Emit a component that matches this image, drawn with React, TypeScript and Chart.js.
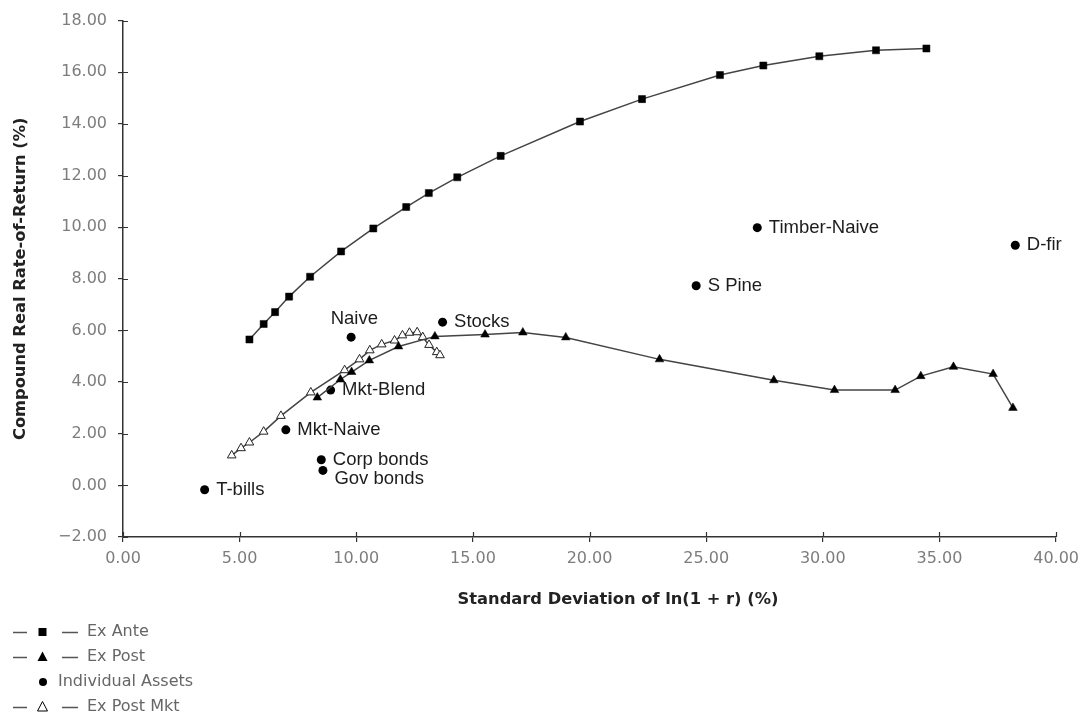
import React, { useEffect, useRef } from 'react';
import { Chart, registerables } from 'chart.js';

Chart.register(...registerables);

// ---- Data ----
const exAnteX = [5.42, 6.03, 6.52, 7.12, 8.02, 9.35, 10.73, 12.14, 13.11, 14.33, 16.19, 19.59, 22.25, 25.59, 27.45, 29.85, 32.28, 34.44];
const exAnteY = [5.65, 6.25, 6.71, 7.31, 8.08, 9.06, 9.95, 10.78, 11.32, 11.93, 12.76, 14.09, 14.96, 15.89, 16.26, 16.62, 16.85, 16.92];

const exPostX = [8.33, 9.32, 9.8, 10.56, 11.81, 13.37, 15.52, 17.14, 18.98, 23.0, 27.9, 30.5, 33.1, 34.2, 35.6, 37.3, 38.15];
const exPostY = [3.4, 4.1, 4.39, 4.84, 5.38, 5.77, 5.84, 5.92, 5.73, 4.88, 4.07, 3.69, 3.69, 4.23, 4.59, 4.31, 3.0];

const exPostMktX = [4.66, 5.06, 5.42, 6.03, 6.77, 8.05, 9.5, 10.14, 10.58, 11.09, 11.64, 11.98, 12.28, 12.61, 12.85, 13.12, 13.45, 13.59];
const exPostMktY = [1.16, 1.44, 1.66, 2.08, 2.69, 3.6, 4.46, 4.88, 5.23, 5.46, 5.61, 5.81, 5.91, 5.93, 5.74, 5.44, 5.16, 5.04];

const assetNames = ['T-bills', 'Mkt-Naive', 'Corp bonds', 'Gov bonds', 'Mkt-Blend', 'Naive', 'Stocks', 'S Pine', 'Timber-Naive', 'D-fir'];
const assetX = [3.5, 6.98, 8.5, 8.57, 8.9, 9.78, 13.7, 24.57, 27.19, 38.25];
const assetY = [-0.17, 2.15, 0.99, 0.58, 3.69, 5.74, 6.32, 7.73, 9.98, 9.3];

const xTicks = [0, 5, 10, 15, 20, 25, 30, 35, 40];
const yTicks = [-2, 0, 2, 4, 6, 8, 10, 12, 14, 16, 18];

const xTitle = 'Standard Deviation of ln(1 + r) (%)';
const yTitle = 'Compound Real Rate-of-Return (%)';
const legendLabels = ['Ex Ante', 'Ex Post', 'Individual Assets', 'Ex Post Mkt'];

const toPoints = (xs: number[], ys: number[]) => xs.map((x, i) => ({ x, y: ys[i] }));

const LINE = '#444';
const TICK_FONT = '16px "DejaVu Sans", sans-serif';
const TICK_COLOR = '#7d7d7d';

const decorPlugin = {
  id: 'decor',
  afterDraw(chart: any) {
    const { ctx, chartArea, scales } = chart;
    const x = scales.x;
    const y = scales.y;
    ctx.save();
    // inner tick marks
    ctx.strokeStyle = '#333';
    ctx.lineWidth = 1.2;
    ctx.beginPath();
    xTicks.forEach((v) => {
      const px = Math.round(x.getPixelForValue(v)) + 0.5;
      ctx.moveTo(px, chartArea.bottom);
      ctx.lineTo(px, chartArea.bottom - 5);
    });
    yTicks.forEach((v) => {
      const py = Math.round(y.getPixelForValue(v)) + 0.5;
      ctx.moveTo(chartArea.left, py);
      ctx.lineTo(chartArea.left + 5, py);
    });
    ctx.stroke();

    // asset labels
    ctx.font = '18.5px "Liberation Sans", Arial, sans-serif';
    ctx.fillStyle = '#1c1c1c';
    ctx.textBaseline = 'middle';
    ctx.textAlign = 'left';
    assetNames.forEach((name, i) => {
      const px = x.getPixelForValue(assetX[i]);
      const py = y.getPixelForValue(assetY[i]);
      let dx = 11.5;
      let dy = 0;
      if (name === 'Naive') { dx = -20.5; dy = -18.5; }
      if (name === 'Gov bonds') { dy = 9; }
      ctx.fillText(name, px + dx, py + dy);
    });

    // axis titles
    ctx.fillStyle = '#222';
    ctx.font = 'bold 16.3px "DejaVu Sans", sans-serif';
    ctx.textAlign = 'center';
    ctx.fillText(xTitle, 618, 600);
    ctx.save();
    ctx.translate(21, (chartArea.top + chartArea.bottom) / 2);
    ctx.rotate(-Math.PI / 2);
    ctx.fillText(yTitle, 0, 0);
    ctx.restore();

    // legend
    const rows = [632, 657, 682, 707];
    ctx.font = TICK_FONT;
    ctx.textAlign = 'left';
    rows.forEach((ry, i) => {
      ctx.strokeStyle = '#555';
      ctx.lineWidth = 1.3;
      if (i !== 2) {
        ctx.beginPath();
        ctx.moveTo(13, ry + 0.5); ctx.lineTo(27, ry + 0.5);
        ctx.moveTo(62, ry + 0.5); ctx.lineTo(78, ry + 0.5);
        ctx.stroke();
      }
      ctx.fillStyle = '#000';
      ctx.strokeStyle = '#000';
      if (i === 0) {
        ctx.fillRect(38.5, ry - 4, 8, 8);
      } else if (i === 1) {
        ctx.beginPath();
        ctx.moveTo(42.5, ry - 5.5); ctx.lineTo(47.5, ry + 4); ctx.lineTo(37.5, ry + 4); ctx.closePath();
        ctx.fill();
      } else if (i === 2) {
        ctx.beginPath();
        ctx.arc(43, ry, 4, 0, Math.PI * 2);
        ctx.fill();
      } else {
        ctx.lineWidth = 1;
        ctx.beginPath();
        ctx.moveTo(42.5, ry - 5.5); ctx.lineTo(47.5, ry + 4); ctx.lineTo(37.5, ry + 4); ctx.closePath();
        ctx.stroke();
      }
      ctx.fillStyle = '#666';
      ctx.fillText(legendLabels[i], i === 2 ? 58 : 87, ry);
    });
    ctx.restore();
  },
};

export default function App() {
  const canvasRef = useRef<HTMLCanvasElement | null>(null);

  useEffect(() => {
    if (!canvasRef.current) return;
    const chart = new Chart(canvasRef.current, {
      type: 'scatter',
      data: {
        datasets: [
          {
            label: legendLabels[0],
            data: toPoints(exAnteX, exAnteY),
            showLine: true,
            borderColor: LINE,
            borderWidth: 1.5,
            pointStyle: 'rect',
            pointRadius: 5,
            pointBackgroundColor: '#000',
            pointBorderColor: '#000',
            pointBorderWidth: 0.5,
          },
          {
            label: legendLabels[1],
            data: toPoints(exPostX, exPostY),
            showLine: true,
            borderColor: LINE,
            borderWidth: 1.5,
            pointStyle: 'triangle',
            pointRadius: 5,
            pointBackgroundColor: '#000',
            pointBorderColor: '#000',
            pointBorderWidth: 0.5,
          },
          {
            label: legendLabels[3],
            data: toPoints(exPostMktX, exPostMktY),
            showLine: true,
            borderColor: LINE,
            borderWidth: 1.5,
            pointStyle: 'triangle',
            pointRadius: 5,
            pointBackgroundColor: '#fff',
            pointBorderColor: '#222',
            pointBorderWidth: 1,
          },
          {
            label: legendLabels[2],
            data: toPoints(assetX, assetY),
            showLine: false,
            pointStyle: 'circle',
            pointRadius: 4.5,
            pointBackgroundColor: '#000',
            pointBorderColor: '#000',
            pointBorderWidth: 0,
          },
        ],
      },
      options: {
        animation: false,
        responsive: false,
        maintainAspectRatio: false,
        layout: { padding: { left: 0, right: 25, top: 18, bottom: 0 } },
        plugins: {
          legend: { display: false },
          tooltip: { enabled: false },
        },
        scales: {
          x: {
            type: 'linear',
            min: 0,
            max: 40,
            afterFit: (s: any) => { s.height = 182; },
            afterBuildTicks: (s: any) => { s.ticks = xTicks.map((v) => ({ value: v })); },
            ticks: {
              color: TICK_COLOR,
              font: { family: '"DejaVu Sans", sans-serif', size: 16 },
              padding: 7,
              maxRotation: 0,
              callback: (v: any) => Number(v).toFixed(2),
            },
            grid: { drawOnChartArea: false, drawTicks: true, tickLength: 5, color: '#333', lineWidth: 1.2 },
            border: { display: true, color: '#333', width: 1.5 },
          },
          y: {
            type: 'linear',
            min: -2,
            max: 18,
            afterFit: (s: any) => { s.width = 123; },
            afterBuildTicks: (s: any) => { s.ticks = yTicks.map((v) => ({ value: v })); },
            ticks: {
              color: TICK_COLOR,
              font: { family: '"DejaVu Sans", sans-serif', size: 16 },
              padding: 11,
              callback: (v: any) => (Number(v) < 0 ? '\u2212' + Math.abs(Number(v)).toFixed(2) : Number(v).toFixed(2)),
            },
            grid: { drawOnChartArea: false, drawTicks: true, tickLength: 5, color: '#333', lineWidth: 1.2 },
            border: { display: true, color: '#333', width: 1.5 },
          },
        },
      },
      plugins: [decorPlugin],
    });
    return () => chart.destroy();
  }, []);

  return (
    <div style={{ position: 'fixed', left: 0, top: 0, width: 1086, height: 719, background: '#fff' }}>
      <canvas ref={canvasRef} width={1086} height={719} style={{ width: 1086, height: 719, display: 'block' }} />
    </div>
  );
}
